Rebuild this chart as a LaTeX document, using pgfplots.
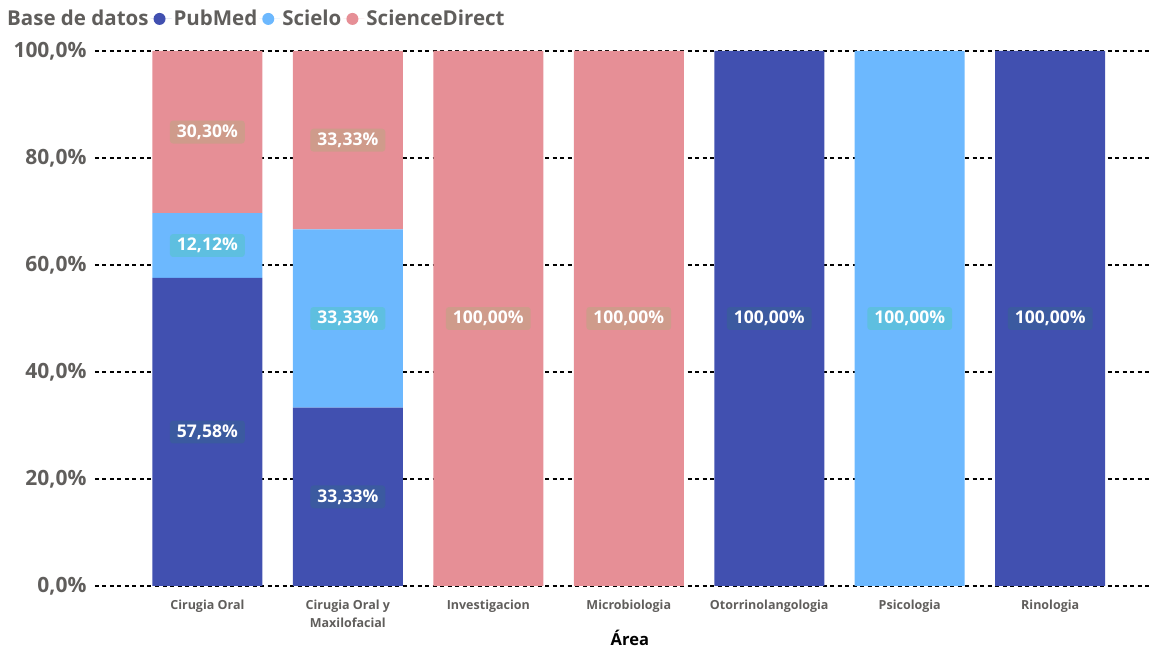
\documentclass[border=0pt]{standalone}
\usepackage{pgfplots}
\pgfplotsset{compat=1.18}
\usepackage{fontspec}
\setmainfont{Open Sans}
\definecolor{pub}{HTML}{4150B0}
\definecolor{sci}{HTML}{6CB8FE}
\definecolor{sd}{HTML}{E68F96}
\definecolor{pubL}{HTML}{3B5AA0}
\definecolor{sciL}{HTML}{5EBFE0}
\definecolor{sdL}{HTML}{CF9B8B}
\definecolor{txt}{HTML}{605E5C}
\pgfkeys{/pgf/number format/assume math mode=true}
\pgfplotsset{
  base/.style={
    scale only axis, width=1055pt, height=535pt,
    at={(95pt,64pt)}, anchor=south west,
    xmin=-0.8, xmax=6.71, ymin=0, ymax=100,
  },
  dotleg/.style={legend image code/.code={\path (-6pt,0pt) -- (15pt,0pt); \fill[##1] (3pt,0pt) circle (6pt);}},
}
\begin{document}
\begin{tikzpicture}
\useasboundingbox (0,0) rectangle (1163pt,650pt);
\begin{axis}[base, ybar stacked, bar width=110pt,
  xtick={0,...,6},
  xticklabels={Cirugia Oral, {Cirugia Oral y\\Maxilofacial}, Investigacion, Microbiologia, Otorrinolangologia, Psicologia, Rinologia},
  xticklabel style={align=center, font=\bfseries\fontsize{12.5}{18}\selectfont, text=txt, yshift=-10pt},
  ytick={0,20,...,100},
  yticklabel={\pgfmathprintnumber[fixed,fixed zerofill,precision=1,use comma]{\tick}\%},
  yticklabel style={font=\bfseries\fontsize{21}{24}\selectfont, text=txt, xshift=-5pt},
  ymajorgrids, grid style={black, dash pattern=on 4pt off 3.5pt, line width=1.3pt},
  axis line style={draw=none}, major tick length=0pt,
  xlabel={\bfseries Área}, xlabel style={font=\fontsize{16.5}{18}\selectfont, black, at={(axis description cs:0.507,-0.097)}, anchor=center},
  legend columns=-1,
  legend style={at={(rel axis cs:-0.0853,1.080)}, anchor=north west, draw=none, fill=none, inner sep=0pt,
    font=\bfseries\fontsize{20.5}{23}\selectfont, text=txt},
]
\addlegendimage{empty legend}
\addlegendentry{Base de datos}
\addplot[fill=pub, draw=none, dotleg] coordinates {(0,57.58) (1,33.33) (2,0) (3,0) (4,100) (5,0) (6,100)};
\addlegendentry{PubMed}
\addplot[fill=sci, draw=none, dotleg] coordinates {(0,12.12) (1,33.33) (2,0) (3,0) (4,0) (5,100) (6,0)};
\addlegendentry{Scielo}
\addplot[fill=sd, draw=none, dotleg] coordinates {(0,30.30) (1,33.34) (2,100) (3,100) (4,0) (5,0) (6,0)};
\addlegendentry{ScienceDirect}
\end{axis}
\begin{axis}[base, hide axis, clip=false,
  point meta=explicit,
  nodes near coords={\pgfmathprintnumber[fixed,fixed zerofill,precision=2,use comma]{\pgfplotspointmeta}\%},
  nodes near coords align=center,
  every node near coord/.append style={font=\bfseries\fontsize{17.5}{20}\selectfont, text=white, rounded corners=3pt, inner xsep=7pt, inner ysep=4pt, anchor=center},
]
\addplot[draw=none, mark=none, every node near coord/.append style={fill=pubL}] coordinates {(0,28.79)[57.58] (1,16.665)[33.33] (4,50)[100] (6,50)[100]};
\addplot[draw=none, mark=none, every node near coord/.append style={fill=sciL}] coordinates {(0,63.64)[12.12] (1,50)[33.33] (5,50)[100]};
\addplot[draw=none, mark=none, every node near coord/.append style={fill=sdL}] coordinates {(0,84.85)[30.30] (1,83.33)[33.33] (2,50)[100] (3,50)[100]};
\end{axis}
\end{tikzpicture}
\end{document}
